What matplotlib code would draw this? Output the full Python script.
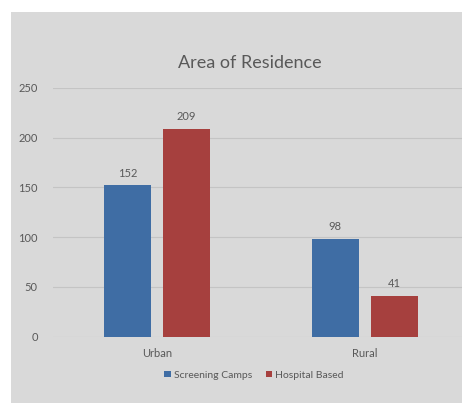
import matplotlib
matplotlib.use("Agg")
import matplotlib.pyplot as plt
from matplotlib.patches import Rectangle
import numpy as np

plt.rcParams['font.family'] = ['Lato', 'DejaVu Sans']

categories = ["Urban", "Rural"]
screening_camps = [152, 98]
hospital_based = [209, 41]
series_names = ["Screening Camps", "Hospital Based"]
y_ticks = [0, 50, 100, 150, 200, 250]

blue = "#3F6DA4"
red = "#A6403E"
text_col = "#595959"

W, H = 462, 404
fig = plt.figure(figsize=(W / 100, H / 100), dpi=100)
fig.patch.set_facecolor("white")

# gray chart area panel, drawn underneath the axes
fig.patches.append(Rectangle((11 / W, 1 / H), (W - 11) / W, (H - 13) / H,
                             transform=fig.transFigure, facecolor="#D9D9D9",
                             edgecolor="none", zorder=-5))

ax = fig.add_axes([53 / W, (H - 336.7) / H, 416 / W, (336.7 - 88) / H])
ax.set_facecolor("none")
ax.set_zorder(2)

x = np.arange(len(categories))
bw = 0.226
off = 0.143
b1 = ax.bar(x - off, screening_camps, bw, color=blue, label=series_names[0], zorder=3)
b2 = ax.bar(x + off, hospital_based, bw, color=red, label=series_names[1], zorder=3)

for bars, vals in ((b1, screening_camps), (b2, hospital_based)):
    for r, v in zip(bars, vals):
        ax.text(r.get_x() + r.get_width() / 2, v + 7, str(v), ha="center",
                va="bottom", fontsize=8, color=text_col)

ax.set_xlim(-0.5, 1.5)
ax.set_ylim(0, 250)
ax.set_yticks(y_ticks)
ax.set_xticks(x)
ax.set_xticklabels(categories)
ax.tick_params(axis="both", length=0, labelsize=8, labelcolor=text_col)
ax.tick_params(axis="y", pad=11)
ax.tick_params(axis="x", pad=8)
ax.grid(axis="y", color="#C4C4C4", linewidth=0.8, zorder=1)
for s in ax.spines.values():
    s.set_visible(False)

fig.text(250 / W, 1 - 63 / H, "Area of Residence", ha="center", va="center",
         fontsize=13, color=text_col)

fig.legend(loc="center", bbox_to_anchor=(254 / W, 1 - 375 / H), ncol=2,
           frameon=False, fontsize=7.5, labelcolor=text_col, handlelength=0.6,
           handleheight=0.6, handletextpad=0.3, columnspacing=1.3)

fig.savefig("out.png", dpi=100, facecolor=fig.get_facecolor())
